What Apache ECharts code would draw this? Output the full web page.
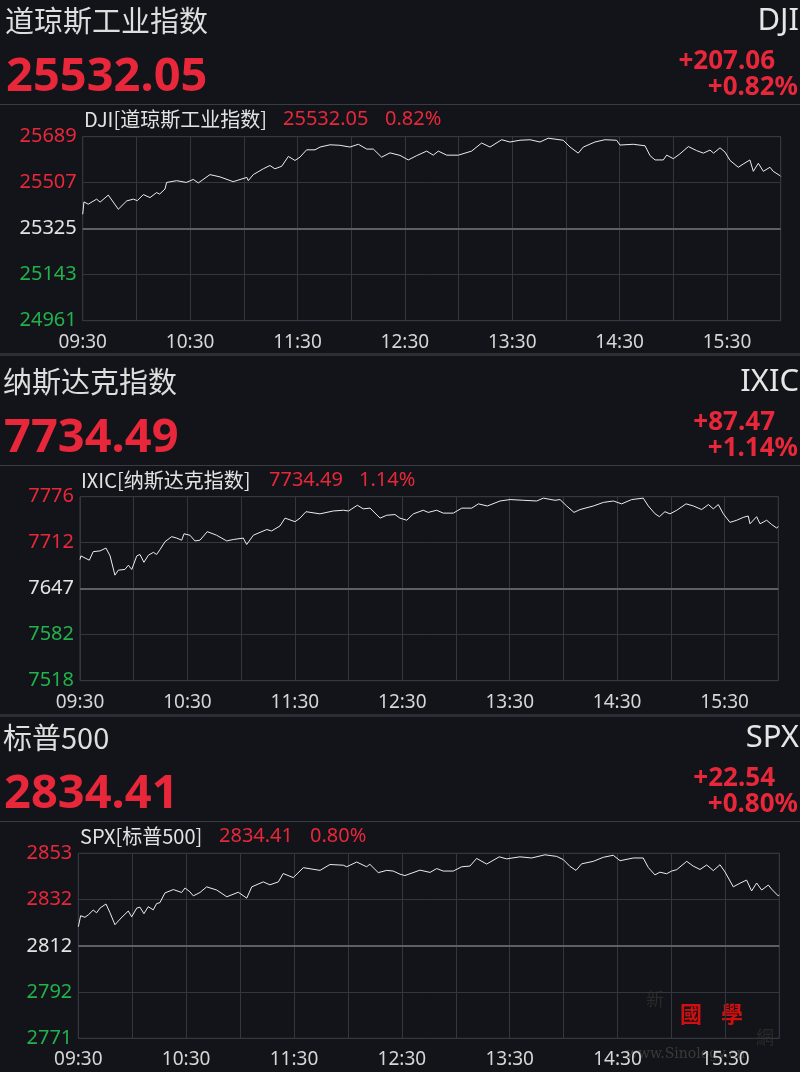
<!DOCTYPE html>
<html><head><meta charset="utf-8">
<script src="https://cdn.jsdelivr.net/npm/echarts@6/dist/echarts.min.js"></script>
<style>html,body{margin:0;padding:0;background:#131419;}#c{width:800px;height:1072px;}</style>
</head><body><div id="c"></div>
<script>
// ---- data ----
const xTickLabels = ['09:30','10:30','11:30','12:30','13:30','14:30','15:30'];

const djiTicks = ['25689','25507','25325','25143','24961'];
const djiPrev = 25324.99, djiStep = 182;
const djiMin = [0,0.7,3.1,7.8,9.7,14.3,19.9,24.6,28.3,30.5,33.9,37.6,41.3,43,46,46.9,52.5,57.9,61.8,64.6,71.1,76.7,84.1,91.7,92.5,95.3,100.9,104.6,107.4,111.2,114.9,118.6,121.4,125.1,129.8,132.6,138.2,143.7,149.3,154,158.7,162.4,167,171.7,177.3,181.9,186.6,192.2,195.9,198.7,203.4,209.9,217.3,222.9,227.6,234.1,238.7,244.3,249.9,255.5,260.1,268.5,272.3,276.9,279.7,286.2,291.8,298.3,300.2,307.6,314.2,317,319.8,324.4,326.3,330,333.7,338.4,343,346.8,350.5,352.5,356.1,358.9,361.7,366.3,369.1,372.8,374.7,377.5,380.3,384,385.8,389.6,390];
const djiVal = [25382,25431,25422,25442,25430,25458,25402,25435,25442,25436,25460,25448,25468,25462,25482,25508,25515,25508,25520,25506,25539,25530,25511,25528,25515,25539,25562,25575,25562,25572,25611,25595,25608,25637,25637,25648,25657,25655,25648,25659,25640,25640,25608,25625,25615,25597,25614,25632,25616,25632,25616,25616,25632,25664,25648,25677,25668,25675,25677,25668,25683,25675,25648,25624,25648,25668,25677,25675,25656,25659,25653,25614,25597,25597,25616,25602,25621,25650,25634,25624,25636,25624,25645,25628,25595,25568,25581,25597,25552,25584,25552,25568,25552,25535,25532];

const ixicTicks = ['7776','7712','7647','7582','7518'];
const ixicPrev = 7647.02, ixicStep = 64.5;
const ixicMin = [0,0.5,5.2,7.4,11.2,14.5,16.8,19.5,21.4,25.1,27,28.9,31.7,33.5,35.7,38.2,41,42.8,44.7,47.5,51.2,54,56.8,58.1,61.4,64.2,67,71.1,76.3,81.9,85.6,91.2,93.1,96.8,104.3,107,111.7,114.5,120.1,122.9,126.2,134,141.5,147.1,150,154.9,158.2,162,167.6,171.3,175.9,178.7,182.5,186.2,191.7,194.5,199.2,202.9,208.5,213.2,218.8,222.5,227.5,234.6,240.2,247.6,255.1,258.8,265.3,268.1,271.8,275.9,279.3,286.7,292.3,297.9,302.5,308.1,314.6,317.4,321.2,323.6,326.7,329.5,333.3,338.5,342.6,347.2,351,353.7,356.5,359.3,363,366.8,370.4,373.2,374.2,377.9,379.8,383.5,386.3,389.1,390];
const ixicVal = [7688,7693,7687,7699,7700,7704,7693,7666,7673,7674,7680,7674,7693,7695,7684,7694,7698,7695,7702,7713,7720,7718,7715,7724,7722,7714,7715,7727,7722,7714,7716,7718,7709,7722,7730,7728,7735,7746,7741,7746,7755,7752,7756,7757,7756,7764,7759,7760,7746,7750,7751,7746,7743,7752,7757,7754,7757,7753,7753,7760,7760,7766,7763,7770,7772,7771,7770,7774,7771,7772,7763,7754,7758,7763,7768,7770,7766,7772,7774,7763,7752,7748,7755,7752,7757,7766,7763,7758,7765,7759,7765,7752,7740,7743,7747,7749,7738,7748,7738,7743,7737,7732,7734.49];

const spxTicks = ['2853','2832','2812','2792','2771'];
const spxPrev = 2811.87, spxStep = 20.5;
const spxMin = [0,1.3,3.7,5.6,8.3,10.2,12.1,15.4,17.6,20.4,23.2,27.8,29.7,32.5,34.3,36.5,38.9,41.7,43.6,45.4,48.2,52.9,57.5,59.4,62.1,64,67.7,71.4,77,82.6,89,93.7,96.5,102.9,106.6,111.3,114,119.6,125.2,134.5,140,147.4,149.3,154.9,160.4,162.2,166.9,171.6,175.2,179,181.7,190.1,195.7,199.4,203,208.6,213.3,217.9,221.6,227.2,234.2,238.3,245.7,252.2,259.6,266.1,269.8,273.5,276.9,280,286.5,292.1,297.6,301.4,308.8,314.3,317.1,320.8,323.6,327.3,330.1,332.9,338.5,342.1,345.9,349.6,353.3,357,359.8,364.4,368.1,371.8,374.6,377.4,380.2,383.9,385.7,389.4,390];
const spxVal = [2820.3,2825.2,2824.5,2825.6,2827.7,2826.5,2828.6,2830.4,2826.6,2821.2,2823.7,2827.3,2824.7,2828.6,2829,2826.1,2829.2,2827.8,2830.6,2831,2835.3,2836.8,2835.5,2837.5,2835.8,2834,2835.5,2838,2836.6,2833.6,2835.6,2833,2838,2840.2,2838.9,2840.2,2843.9,2842.1,2846.5,2845.3,2847.9,2847.6,2846.9,2849,2846.9,2848,2844.3,2845.3,2845,2843.6,2843,2845.4,2844.4,2846.1,2845,2845,2846.9,2847.2,2850.6,2848.1,2851.3,2850.4,2851.3,2850.8,2852.2,2851.5,2850.1,2847.1,2845.3,2848.2,2849.3,2851.1,2852,2849.6,2850.8,2850.8,2846.6,2843.3,2844.5,2843.8,2845,2845.6,2849.3,2847.2,2845.7,2847.7,2845.2,2847.8,2844.6,2838,2839.6,2841,2836.2,2839.7,2836.6,2838.8,2837,2834,2834.41];

const panels = [
  {name:'道琼斯工业指数', code:'DJI', last:'25532.05', chg:'+207.06', pct:'+0.82%', sub:'DJI[道琼斯工业指数]', pctS:'0.82%',
   ticks:djiTicks, prev:djiPrev, step:djiStep, mins:djiMin, vals:djiVal},
  {name:'纳斯达克指数', code:'IXIC', last:'7734.49', chg:'+87.47', pct:'+1.14%', sub:'IXIC[纳斯达克指数]', pctS:'1.14%',
   ticks:ixicTicks, prev:ixicPrev, step:ixicStep, mins:ixicMin, vals:ixicVal},
  {name:'标普500', code:'SPX', last:'2834.41', chg:'+22.54', pct:'+0.80%', sub:'SPX[标普500]', pctS:'0.80%',
   ticks:spxTicks, prev:spxPrev, step:spxStep, mins:spxMin, vals:spxVal}
];

// ---- layout ----
const layout = [
  {off:0,   grid:{left:82.7, top:136.7, width:698, height:184}, subX:84, subNumX:283, subPctX:385, nameX:5, bigX:6},
  {off:361, grid:{left:80, top:496.7, width:698.3, height:184}, subX:81, subNumX:269, subPctX:359, nameX:3, bigX:4},
  {off:717, grid:{left:78.3, top:853.3, width:701, height:185}, subX:80, subNumX:219, subPctX:310, nameX:3, bigX:4}
];
const RED = '#e8283a', GREEN = '#22b24c', WHITE = '#e4e4e4', GRIDC = '#34363d';
const CJK = '"Noto Sans CJK SC","Noto Sans",sans-serif';
const NUM = '"Noto Sans","Noto Sans CJK SC",sans-serif';

const grids = [], xAxes = [], yAxes = [], series = [], graphics = [];
panels.forEach((p, i) => {
  const L = layout[i], o = L.off;
  grids.push(Object.assign({show:true, borderColor:'#3b3d44', borderWidth:1, backgroundColor:'transparent'}, L.grid));
  xAxes.push({type:'value', gridIndex:i, min:0, max:390, interval:30,
    axisLine:{show:false}, axisTick:{show:false},
    splitLine:{show:true, lineStyle:{color:GRIDC, width:1}},
    axisLabel:{show:true, color:'#d6d6d6', fontSize:19, fontFamily:NUM, margin:12, showMaxLabel:false,
      formatter:v => (v % 60 === 0 && v < 390) ? xTickLabels[v/60] : ''}});
  yAxes.push({type:'value', gridIndex:i, min:-2*p.step, max:2*p.step, interval:p.step,
    axisLine:{show:false}, axisTick:{show:false},
    splitLine:{show:true, lineStyle:{color:GRIDC, width:1}},
    axisLabel:{show:true, fontSize:20, fontFamily:NUM, margin:6,
      formatter:v => p.ticks[Math.round(2 - v/p.step)],
      color:v => { const k = Math.round(2 - v/p.step); return k < 2 ? RED : (k === 2 ? WHITE : GREEN); }}});
  series.push({type:'line', xAxisIndex:i, yAxisIndex:i, showSymbol:false, symbol:'none',
    data:p.mins.map((m, j) => [m, p.vals[j] - p.prev]),
    lineStyle:{color:'#ececec', width:1}, animation:false,
    markLine:{silent:true, symbol:'none', label:{show:false}, animation:false,
      lineStyle:{color:'#5d5f66', width:2, type:'solid'}, data:[{yAxis:0}]}});
  // header texts
  graphics.push({type:'text', x:L.nameX, y:21+o, style:{text:p.name, fill:'#dedede', font:'29px '+CJK, textVerticalAlign:'middle'}});
  graphics.push({type:'text', x:799, y:21+o, style:{text:p.code, fill:'#e6e6e6', font:'31px '+NUM, textAlign:'right', textVerticalAlign:'middle'}});
  graphics.push({type:'text', x:L.bigX, y:78+o, style:{text:p.last, fill:RED, font:'bold 47px '+NUM, textVerticalAlign:'middle'}});
  graphics.push({type:'text', x:775, y:62+o, style:{text:p.chg, fill:RED, font:'bold 26px '+NUM, textAlign:'right', textVerticalAlign:'middle'}});
  graphics.push({type:'text', x:798, y:88+o, style:{text:p.pct, fill:RED, font:'bold 26px '+NUM, textAlign:'right', textVerticalAlign:'middle'}});
  graphics.push({type:'line', shape:{x1:0, y1:104.5+o, x2:800, y2:104.5+o}, style:{stroke:'#3a3c43', lineWidth:1}});
  graphics.push({type:'text', x:L.subX, y:119+o, style:{text:p.sub, fill:'#e2e2e2', font:'20px '+CJK, textVerticalAlign:'middle'}});
  graphics.push({type:'text', x:L.subNumX, y:119+o, style:{text:p.last, fill:RED, font:'20px '+NUM, textVerticalAlign:'middle'}});
  graphics.push({type:'text', x:L.subPctX, y:119+o, style:{text:p.pctS, fill:RED, font:'20px '+NUM, textVerticalAlign:'middle'}});
});
// panel separators
[353, 714].forEach(y => graphics.push({type:'rect', shape:{x:0, y:y, width:800, height:3}, style:{fill:'#2c2e35'}}));
// watermark texts
graphics.push({type:'text', x:646, y:999, style:{text:'新', fill:'#2a2a2a', font:'18px '+CJK, textVerticalAlign:'middle'}});
graphics.push({type:'text', x:680, y:1014, style:{text:'國', fill:'#d01010', font:'bold 22px '+CJK, textVerticalAlign:'middle'}});
graphics.push({type:'text', x:721, y:1014, style:{text:'學', fill:'#d01010', font:'bold 22px '+CJK, textVerticalAlign:'middle'}});
graphics.push({type:'text', x:756, y:1037, style:{text:'網', fill:'#2a2a2a', font:'18px '+CJK, textVerticalAlign:'middle'}});
graphics.push({type:'text', x:626, y:1054, style:{text:'www.Sinology.cn', fill:'#3a3a3a', font:'14px "DejaVu Serif",serif', textVerticalAlign:'middle'}});

const chart = echarts.init(document.getElementById('c'), null, {renderer:'canvas', devicePixelRatio:1});
chart.setOption({
  backgroundColor:'#131419', animation:false,
  grid:grids, xAxis:xAxes, yAxis:yAxes, series:series, graphic:graphics
});
</script></body></html>
